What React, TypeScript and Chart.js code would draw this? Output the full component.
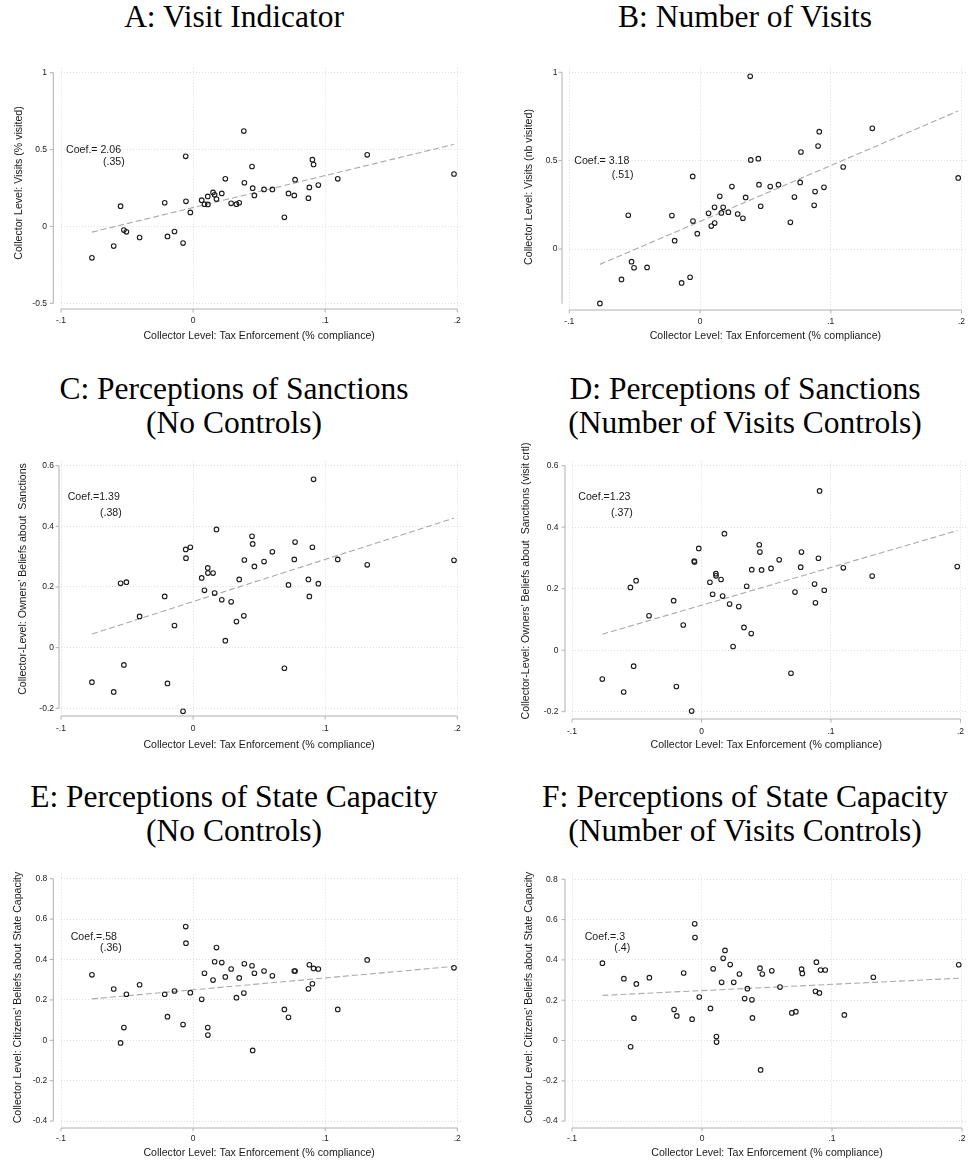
import React, { useEffect, useRef } from "react";
import { Chart, registerables } from "chart.js";

Chart.register(...registerables);

// ---------------- DATA ----------------
// Collector level: tax enforcement (% compliance), shared x for all panels
const taxEnforcement = [
  -0.0766, -0.0601, -0.0549, -0.0524, -0.0505, -0.0405, -0.0215, -0.0194, -0.0141, -0.0076,
  -0.0056, -0.0054, -0.0021, 0.0065, 0.0086, 0.0111, 0.0112, 0.0151, 0.0163, 0.0177,
  0.0217, 0.0244, 0.0288, 0.0328, 0.0349, 0.0384, 0.0388, 0.0446, 0.0451, 0.0464,
  0.0537, 0.06, 0.0691, 0.0722, 0.0766, 0.0772, 0.0873, 0.088, 0.0903, 0.0912,
  0.0948, 0.1095, 0.1318, 0.1975,
];

const visitIndicator = [
  -0.204, -0.128, 0.132, -0.024, -0.035, -0.072, 0.154, -0.065, -0.033, -0.108,
  0.456, 0.163, 0.091, 0.171, 0.145, 0.195, 0.143, 0.221, 0.206, 0.178,
  0.215, 0.31, 0.15, 0.145, 0.154, 0.62, 0.284, 0.39, 0.249, 0.202,
  0.241, 0.241, 0.059, 0.215, 0.202, 0.304, 0.184, 0.254, 0.434, 0.403,
  0.269, 0.31, 0.466, 0.341,
];

const numberOfVisits = [
  -0.308, -0.172, 0.191, -0.072, -0.106, -0.104, 0.189, 0.047, -0.192, -0.16,
  0.411, 0.158, 0.087, 0.202, 0.13, 0.236, 0.147, 0.298, 0.204, 0.236,
  0.208, 0.353, 0.198, 0.174, 0.292, 0.977, 0.504, 0.511, 0.364, 0.242,
  0.353, 0.364, 0.151, 0.294, 0.377, 0.549, 0.247, 0.325, 0.583, 0.664,
  0.349, 0.464, 0.683, 0.402,
];

const sanctionsNoControls = [
  -0.114, -0.146, 0.212, -0.057, 0.216, 0.103, 0.169, -0.118, 0.073, -0.21,
  0.324, 0.295, 0.331, 0.23, 0.189, 0.263, 0.246, 0.246, 0.18, 0.39,
  0.158, 0.023, 0.151, 0.086, 0.225, 0.105, 0.289, 0.367, 0.342, 0.268,
  0.284, 0.316, -0.068, 0.207, 0.291, 0.348, 0.225, 0.169, 0.331, 0.555,
  0.211, 0.291, 0.273, 0.288,
];

const sanctionsVisitControls = [
  -0.094, -0.136, 0.204, -0.052, 0.226, 0.112, 0.161, -0.118, 0.082, -0.198,
  0.29, 0.287, 0.331, 0.221, 0.182, 0.249, 0.242, 0.23, 0.176, 0.379,
  0.15, 0.012, 0.142, 0.074, 0.208, 0.054, 0.262, 0.343, 0.319, 0.261,
  0.266, 0.294, -0.075, 0.189, 0.27, 0.319, 0.215, 0.154, 0.299, 0.518,
  0.195, 0.268, 0.241, 0.272,
];

const capacityNoControls = [
  0.324, 0.254, -0.013, 0.063, 0.228, 0.275, 0.228, 0.117, 0.244, 0.078,
  0.563, 0.481, 0.236, 0.203, 0.332, 0.063, 0.026, 0.298, 0.389, 0.459,
  0.385, 0.314, 0.353, 0.211, 0.309, 0.234, 0.379, 0.369, -0.05, 0.332,
  0.343, 0.319, 0.153, 0.114, 0.343, 0.343, 0.255, 0.374, 0.28, 0.356,
  0.353, 0.153, 0.398, 0.359,
];

const capacityVisitControls = [
  0.384, 0.307, -0.031, 0.111, 0.281, 0.312, 0.154, 0.122, 0.335, 0.106,
  0.579, 0.511, 0.216, 0.159, 0.356, 0.02, -0.008, 0.289, 0.408, 0.447,
  0.377, 0.289, 0.33, 0.208, 0.257, 0.202, 0.112, 0.359, -0.146, 0.33,
  0.346, 0.265, 0.137, 0.143, 0.354, 0.333, 0.244, 0.389, 0.236, 0.35,
  0.35, 0.127, 0.314, 0.376,
];

// Fitted lines (endpoints at min / max x)
const fitX = [-0.0766, 0.1975];
const fitVisitIndicator = [-0.037, 0.534];
const fitNumberOfVisits = [-0.087, 0.781];
const fitSanctionsNoControls = [0.045, 0.427];
const fitSanctionsVisitControls = [0.052, 0.389];
const fitCapacityNoControls = [0.205, 0.366];
const fitCapacityVisitControls = [0.224, 0.309];

// Ticks
const xTickValues = [-0.1, 0, 0.1, 0.2];
const xTickLabels = ["-.1", "0", ".1", ".2"];
const yTicksVisitIndicator = [-0.5, 0, 0.5, 1];
const yLabelsVisitIndicator = ["-0.5", "0", "0.5", "1"];
const yTicksNumberOfVisits = [0, 0.5, 1];
const yLabelsNumberOfVisits = ["0", "0.5", "1"];
const yTicksSanctions = [-0.2, 0, 0.2, 0.4, 0.6];
const yLabelsSanctions = ["-0.2", "0", "0.2", "0.4", "0.6"];
const yTicksCapacity = [-0.4, -0.2, 0, 0.2, 0.4, 0.6, 0.8];
const yLabelsCapacity = ["-0.4", "-0.2", "0", "0.2", "0.4", "0.6", "0.8"];

const xTitle = "Collector Level: Tax Enforcement (% compliance)";

// ---------------- LAYOUT ----------------
type PanelSpec = {
  key: string;
  ys: number[];
  fit: number[];
  yTicks: number[];
  yLabels: string[];
  yTitle: string;
  coef: { text: string; x: number; y: number }[];
  title: string[];
  titleCx: number;
  titleTop: number;
  cx: number; cy: number; cw: number; ch: number;
  px0: number; px2: number;
  yv1: number; yp1: number; yv2: number; yp2: number;
  axisX: number; axisY: number;
  yAxisSpan: number[];
  labelRight: number;
  xLabelY: number;
  yTitleX: number; yTitleY: number;
  xTitleY: number;
};

const LEFT = { cx: 0, cw: 486 };
const RIGHT = { cx: 486, cw: 487 };
const ROW1 = { cy: 40, ch: 310 };
const ROW2 = { cy: 440, ch: 320 };
const ROW3 = { cy: 855, ch: 308 };

const panels: PanelSpec[] = [
  {
    key: "A", ys: visitIndicator, fit: fitVisitIndicator,
    yTicks: yTicksVisitIndicator, yLabels: yLabelsVisitIndicator,
    yTitle: "Collector Level: Visits (% visited)",
    coef: [{ text: "Coef.= 2.06", x: 66, y: 150 }, { text: "(.35)", x: 103, y: 162 }],
    title: ["A: Visit Indicator"], titleCx: 234, titleTop: 0,
    ...LEFT, ...ROW1,
    px0: 61, px2: 457.3, yv1: 1, yp1: 72.7, yv2: -0.5, yp2: 303.3,
    axisX: 53.3, axisY: 309, yAxisSpan: [-0.5, 1], labelRight: 47, xLabelY: 321,
    yTitleX: 19.5, yTitleY: 183, xTitleY: 336,
  },
  {
    key: "B", ys: numberOfVisits, fit: fitNumberOfVisits,
    yTicks: yTicksNumberOfVisits, yLabels: yLabelsNumberOfVisits,
    yTitle: "Collector Level: Visits (nb visited)",
    coef: [{ text: "Coef.= 3.18", x: 574.3, y: 161.3 }, { text: "(.51)", x: 611.7, y: 174.7 }],
    title: ["B: Number of Visits"], titleCx: 745, titleTop: 0,
    ...RIGHT, ...ROW1,
    px0: 569.3, px2: 967.7, yv1: 1, yp1: 72.3, yv2: 0, yp2: 249,
    axisX: 562, axisY: 310, yAxisSpan: [-0.31, 1], labelRight: 557.5, xLabelY: 322,
    yTitleX: 529, yTitleY: 187, xTitleY: 336,
  },
  {
    key: "C", ys: sanctionsNoControls, fit: fitSanctionsNoControls,
    yTicks: yTicksSanctions, yLabels: yLabelsSanctions,
    yTitle: "Collector-Level: Owners' Beliefs about  Sanctions",
    coef: [{ text: "Coef.=1.39", x: 67.7, y: 497 }, { text: "(.38)", x: 100, y: 513.3 }],
    title: ["C: Perceptions of Sanctions", "(No Controls)"], titleCx: 234, titleTop: 372,
    ...LEFT, ...ROW2,
    px0: 61, px2: 457.3, yv1: 0.6, yp1: 465.7, yv2: -0.2, yp2: 708.3,
    axisX: 59, axisY: 716, yAxisSpan: [-0.2, 0.6], labelRight: 54, xLabelY: 729,
    yTitleX: 23.5, yTitleY: 579, xTitleY: 745,
  },
  {
    key: "D", ys: sanctionsVisitControls, fit: fitSanctionsVisitControls,
    yTicks: yTicksSanctions, yLabels: yLabelsSanctions,
    yTitle: "Collector-Level: Owners' Beliefs about  Sanctions (visit crtl)",
    coef: [{ text: "Coef.=1.23", x: 578.3, y: 497 }, { text: "(.37)", x: 611, y: 513 }],
    title: ["D: Perceptions of Sanctions", "(Number of Visits Controls)"], titleCx: 745, titleTop: 372,
    ...RIGHT, ...ROW2,
    px0: 572, px2: 968.3, yv1: 0.6, yp1: 465.7, yv2: -0.2, yp2: 711.7,
    axisX: 565, axisY: 719, yAxisSpan: [-0.2, 0.6], labelRight: 558.5, xLabelY: 732,
    yTitleX: 526, yTitleY: 581, xTitleY: 745,
  },
  {
    key: "E", ys: capacityNoControls, fit: fitCapacityNoControls,
    yTicks: yTicksCapacity, yLabels: yLabelsCapacity,
    yTitle: "Collector Level: Citizens' Beliefs about State Capacity",
    coef: [{ text: "Coef.=.58", x: 70.7, y: 937 }, { text: "(.36)", x: 100, y: 947.7 }],
    title: ["E: Perceptions of State Capacity", "(No Controls)"], titleCx: 234, titleTop: 780,
    ...LEFT, ...ROW3,
    px0: 61, px2: 457.3, yv1: 0.8, yp1: 874.7, yv2: -0.4, yp2: 1121,
    axisX: 53.3, axisY: 1128, yAxisSpan: [-0.4, 0.8], labelRight: 47.3, xLabelY: 1139,
    yTitleX: 18.5, yTitleY: 997.5, xTitleY: 1153,
  },
  {
    key: "F", ys: capacityVisitControls, fit: fitCapacityVisitControls,
    yTicks: yTicksCapacity, yLabels: yLabelsCapacity,
    yTitle: "Collector Level: Citizens' Beliefs about State Capacity",
    coef: [{ text: "Coef.=.3", x: 584.7, y: 937 }, { text: "(.4)", x: 614.3, y: 947.7 }],
    title: ["F: Perceptions of State Capacity", "(Number of Visits Controls)"], titleCx: 745, titleTop: 780,
    ...RIGHT, ...ROW3,
    px0: 572, px2: 968, yv1: 0.8, yp1: 874.7, yv2: -0.4, yp2: 1121,
    axisX: 565, axisY: 1128, yAxisSpan: [-0.4, 0.8], labelRight: 557.7, xLabelY: 1139,
    yTitleX: 529, yTitleY: 997.5, xTitleY: 1153,
  },
];

const SANS = '"Liberation Sans", Arial, Helvetica, sans-serif';
const TICK_SIZE = 8.5;
const LABEL_SIZE = 10.6;
const AXIS_COLOR = "#b0b0b0";
const GRID_COLOR = "#d4d4d4";
const TEXT_COLOR = "#1a1a1a";

function ScatterPanel({ p }: { p: PanelSpec }) {
  const ref = useRef<HTMLCanvasElement | null>(null);

  useEffect(() => {
    const canvas = ref.current;
    if (!canvas) return;

    const left = p.px0;
    const right = p.px2 + 6;
    const top = p.yp1 - 5;
    const bottom = p.axisY - 1;
    const pxPerX = (p.px2 - p.px0) / 0.3;
    const xMin = -0.1;
    const xMax = 0.2 + (right - p.px2) / pxPerX;
    const pxPerY = (p.yp2 - p.yp1) / (p.yv1 - p.yv2);
    const yMax = p.yv1 + (p.yp1 - top) / pxPerY;
    const yMin = p.yv2 - (bottom - p.yp2) / pxPerY;
    const lineH = TICK_SIZE * 1.2;

    const decor = {
      id: "stataDecor" + p.key,
      afterDraw(chart: any) {
        const ctx = chart.ctx as CanvasRenderingContext2D;
        const xs = chart.scales.x;
        const ysc = chart.scales.y;
        ctx.save();
        ctx.strokeStyle = AXIS_COLOR;
        ctx.lineWidth = 1;
        ctx.beginPath();
        // y axis
        const ax = p.axisX - p.cx;
        ctx.moveTo(ax, ysc.getPixelForValue(p.yAxisSpan[1]));
        ctx.lineTo(ax, ysc.getPixelForValue(p.yAxisSpan[0]));
        p.yTicks.forEach((v) => {
          const y = ysc.getPixelForValue(v);
          ctx.moveTo(ax - 3.5, y);
          ctx.lineTo(ax, y);
        });
        // x axis
        const ay = p.axisY - p.cy;
        ctx.moveTo(xs.getPixelForValue(xTickValues[0]), ay);
        ctx.lineTo(xs.getPixelForValue(xTickValues[xTickValues.length - 1]), ay);
        xTickValues.forEach((v) => {
          const x = xs.getPixelForValue(v);
          ctx.moveTo(x, ay);
          ctx.lineTo(x, ay + 3.5);
        });
        ctx.stroke();

        ctx.fillStyle = TEXT_COLOR;
        ctx.font = `${LABEL_SIZE}px ${SANS}`;
        ctx.textBaseline = "middle";
        ctx.textAlign = "left";
        p.coef.forEach((c) => ctx.fillText(c.text, c.x - p.cx, c.y - p.cy));

        ctx.textAlign = "center";
        const xc = (xs.getPixelForValue(-0.1) + xs.getPixelForValue(0.2)) / 2;
        ctx.fillText(xTitle, xc, p.xTitleY - p.cy);

        ctx.translate(p.yTitleX - p.cx, p.yTitleY - p.cy);
        ctx.rotate(-Math.PI / 2);
        ctx.fillText(p.yTitle, 0, 0);
        ctx.restore();
      },
    };

    const chart = new Chart(canvas, {
      type: "scatter",
      data: {
        datasets: [
          {
            label: "fit",
            data: fitX.map((x, i) => ({ x, y: p.fit[i] })),
            showLine: true,
            borderColor: "#a9a9a9",
            borderWidth: 1.1,
            borderDash: [6, 3],
            pointRadius: 0,
            fill: false,
            order: 2,
          },
          {
            label: "collectors",
            data: taxEnforcement.map((x, i) => ({ x, y: p.ys[i] })),
            pointStyle: "circle",
            pointRadius: 2.3,
            pointBorderWidth: 1.1,
            borderColor: "#1c1c1c",
            backgroundColor: "rgba(0,0,0,0)",
            order: 1,
          },
        ],
      },
      options: {
        responsive: false,
        animation: false,
        devicePixelRatio: 1,
        events: [],
        layout: {
          padding: { left: 0, top: top - p.cy, right: p.cx + p.cw - right, bottom: 0 },
        },
        plugins: { legend: { display: false }, tooltip: { enabled: false }, title: { display: false } },
        scales: {
          x: {
            type: "linear",
            min: xMin,
            max: xMax,
            afterFit: (s: any) => {
              s.height = p.cy + p.ch - bottom;
            },
            afterBuildTicks: (s: any) => {
              s.ticks = xTickValues.map((v) => ({ value: v }));
            },
            ticks: {
              callback: (_v: any, i: number) => xTickLabels[i],
              font: { family: SANS, size: TICK_SIZE },
              color: TEXT_COLOR,
              padding: p.xLabelY - bottom - lineH / 2,
              maxRotation: 0,
              minRotation: 0,
              autoSkip: false,
            },
            grid: { drawTicks: false, color: GRID_COLOR, lineWidth: 0.8 },
            border: { display: false, dash: [1, 2] },
          },
          y: {
            type: "linear",
            min: yMin,
            max: yMax,
            afterFit: (s: any) => {
              s.width = left - p.cx;
            },
            afterBuildTicks: (s: any) => {
              s.ticks = p.yTicks.map((v) => ({ value: v }));
            },
            ticks: {
              callback: (_v: any, i: number) => p.yLabels[i],
              font: { family: SANS, size: TICK_SIZE },
              color: TEXT_COLOR,
              padding: left - p.labelRight,
              autoSkip: false,
            },
            grid: { drawTicks: false, color: GRID_COLOR, lineWidth: 0.8 },
            border: { display: false, dash: [1, 2] },
          },
        },
      },
      plugins: [decor],
    } as any);

    return () => chart.destroy();
  }, [p]);

  return (
    <canvas
      ref={ref}
      width={p.cw}
      height={p.ch}
      style={{ position: "absolute", left: p.cx, top: p.cy, width: p.cw, height: p.ch }}
    />
  );
}

export default function App() {
  return (
    <div
      style={{
        position: "absolute",
        left: 0,
        top: 0,
        width: 973,
        height: 1163,
        background: "#ffffff",
        overflow: "hidden",
      }}
    >
      {panels.map((p) => (
        <ScatterPanel key={p.key} p={p} />
      ))}
      {panels.map((p) => (
        <div
          key={"t" + p.key}
          style={{
            position: "absolute",
            left: p.titleCx - 240,
            width: 480,
            top: p.titleTop,
            textAlign: "center",
            fontFamily: '"Liberation Serif", "Times New Roman", serif',
            fontSize: 31.5,
            lineHeight: "34px",
            color: "#000",
            whiteSpace: "nowrap",
          }}
        >
          {p.title.map((t, i) => (
            <div key={i}>{t}</div>
          ))}
        </div>
      ))}
    </div>
  );
}
